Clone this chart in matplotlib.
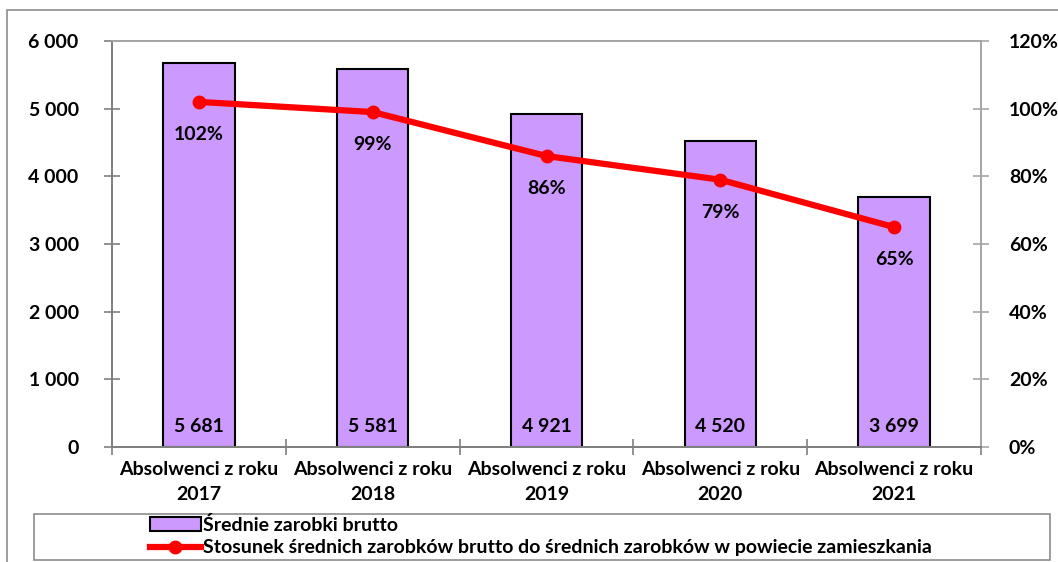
import matplotlib
matplotlib.use("Agg")
import matplotlib.pyplot as plt
from matplotlib.patches import Rectangle
from matplotlib.lines import Line2D
from matplotlib.ticker import FuncFormatter, FixedLocator

plt.rcParams['font.family'] = ['Lato', 'DejaVu Sans']
plt.rcParams['font.weight'] = 'bold'

categories = ["Absolwenci z roku\n2017", "Absolwenci z roku\n2018", "Absolwenci z roku\n2019",
              "Absolwenci z roku\n2020", "Absolwenci z roku\n2021"]
salaries = [5681, 5581, 4921, 4520, 3699]
ratios = [102, 99, 86, 79, 65]
left_ticks = [0, 1000, 2000, 3000, 4000, 5000, 6000]
right_ticks = [0, 20, 40, 60, 80, 100, 120]
bar_label = "Średnie zarobki brutto"
line_label = "Stosunek średnich zarobków brutto do średnich zarobków w powiecie zamieszkania"

W, H = 1058, 562
fig = plt.figure(figsize=(W / 100, H / 100), dpi=100)
ax = fig.add_axes([112 / W, (H - 447) / H, (981 - 112) / W, (447 - 41) / H])
ax2 = ax.twinx()

FS = 14
x = list(range(len(categories)))
bars = ax.bar(x, salaries, width=0.41, color='#CC99FF', edgecolor='black', linewidth=1.5, zorder=2)
ax.set_xlim(-0.5, len(categories) - 0.5)
ax.set_ylim(0, 6000)
ax.set_yticks(left_ticks)
ax.yaxis.set_major_formatter(FuncFormatter(lambda v, p: f"{int(v):,}".replace(",", " ")))
ax.set_xticks(x)
ax.set_xticklabels(categories, fontsize=FS, fontweight='bold', linespacing=1.55)
ax.xaxis.set_minor_locator(FixedLocator([i - 0.5 for i in range(len(categories) + 1)]))
ax.tick_params(axis='x', which='major', length=0, pad=10)
ax.tick_params(axis='x', which='minor', length=12, direction='inout', color='#7f7f7f', width=1.2)
ax.tick_params(axis='y', which='major', length=12, direction='inout', color='#7f7f7f', width=1.2,
               labelsize=FS, pad=18)
for lab in ax.get_yticklabels():
    lab.set_fontweight('bold')

for i, v in enumerate(salaries):
    ax.text(i, 300, f"{v:,}".replace(",", " "), ha='center', va='center', fontsize=FS,
            fontweight='bold', zorder=3)

ax2.plot(x, ratios, color='#FF0000', linewidth=4.5, marker='o', markersize=9, zorder=4)
ax2.set_ylim(0, 120)
ax2.set_yticks(right_ticks)
ax2.yaxis.set_major_formatter(FuncFormatter(lambda v, p: f"{int(v)}%"))
ax2.tick_params(axis='y', which='major', length=12, direction='inout', color='#a6a6a6', width=1.2,
                labelsize=FS, pad=14)
for lab in ax2.get_yticklabels():
    lab.set_fontweight('bold')
for i, r in enumerate(ratios):
    ax2.annotate(f"{r}%", (i, r), xytext=(0, -23.5), textcoords='offset points', ha='center',
                 va='center', fontsize=FS, fontweight='bold')

for a in (ax, ax2):
    a.spines['left'].set_color('#7f7f7f')
    a.spines['bottom'].set_color('#7f7f7f')
    a.spines['top'].set_color('#a6a6a6')
    a.spines['right'].set_color('#a6a6a6')
    for s in a.spines.values():
        s.set_linewidth(1.3)

# outer chart border
fig.patches.append(Rectangle((7 / W, -0.05), 1.2, (H - 10) / H + 0.05, transform=fig.transFigure,
                             fill=False, edgecolor='#8c8c8c', linewidth=1.2))
# legend box
fig.patches.append(Rectangle((34 / W, (H - 560) / H), (1050 - 34) / W, (560 - 514) / H,
                             transform=fig.transFigure, fill=False, edgecolor='#8c8c8c', linewidth=1.2))
handles = [Rectangle((0, 0), 1, 1, facecolor='#CC99FF', edgecolor='black', linewidth=1.5),
           Line2D([], [], color='#FF0000', linewidth=4.5, marker='o', markersize=9)]
fig.legend(handles, [bar_label, line_label], loc='upper left',
           bbox_to_anchor=(150 / W, (H - 516) / H), frameon=False,
           prop={'weight': 'bold', 'size': FS}, handlelength=2.6, handletextpad=0.15,
           borderpad=0, borderaxespad=0, labelspacing=0.28, handleheight=0.7)

fig.savefig("out.png", dpi=100)
